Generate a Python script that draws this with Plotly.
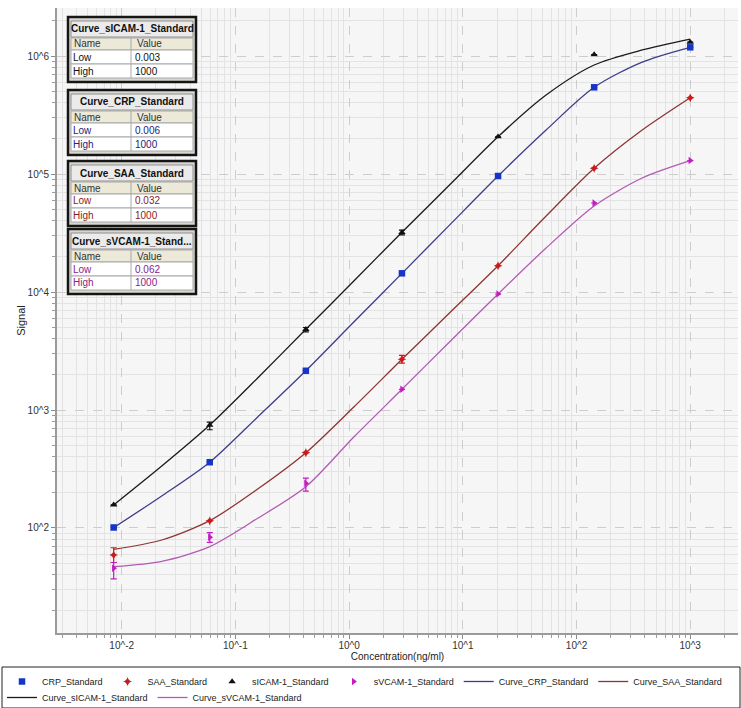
import plotly.graph_objects as go

# ---------------- data ----------------
conc = [0.0085, 0.0595, 0.4165, 2.915, 20.41, 142.9, 1000]

crp = [101, 361, 2150, 14400, 96200, 543000, 1185000]
saa = [59, 115, 435, 2690, 16700, 112000, 443000]
sicam = [157, 746, 4830, 32000, 207000, 1030000, 1310000]
svcam = [45.6, 83.4, 239, 1497, 9620, 56800, 130000]

crp_err_hi = [None, None, None, None, None, None, None]
crp_err_lo = [None, None, None, None, None, None, None]
saa_err_hi = [9, None, None, 210, None, None, None]
saa_err_lo = [8, None, None, 190, None, None, None]
sicam_err_hi = [None, 44, 170, 1500, None, None, None]
sicam_err_lo = [None, 66, 230, 1500, None, None, None]
svcam_err_hi = [5.4, 8, 26, None, None, None, None]
svcam_err_lo = [8.6, 8, 34, None, None, None, None]

curve_conc = [0.0085, 0.0225, 0.0595, 0.157, 0.4165, 1.10, 2.915, 7.71,
              20.41, 54.0, 142.9, 378, 1000]
curve_crp = [100.7, 186.7, 360.6, 873, 2153, 5570, 14390, 37240,
             96200, 236000, 543000, 889000, 1186000]
curve_saa = [65.9, 79.1, 115.3, 214, 434.5, 1060, 2690, 6700,
             16700, 44000, 111700, 236000, 443000]
curve_sicam = [156.7, 335, 746, 1866, 4830, 12390, 32060, 81500,
               207000, 467000, 839000, 1125000, 1393000]
curve_svcam = [47.0, 52.2, 69.5, 120.8, 223.9, 590, 1497, 3810,
               9620, 23600, 53600, 92500, 129700]

x_tickvals = [0.01, 0.1, 1, 10, 100, 1000]
x_ticktext = ["10^-2", "10^-1", "10^0", "10^1", "10^2", "10^3"]
y_tickvals = [1e2, 1e3, 1e4, 1e5, 1e6]
y_ticktext = ["10^2", "10^3", "10^4", "10^5", "10^6"]

table_titles = ["Curve_sICAM-1_Standard", "Curve_CRP_Standard",
                "Curve_SAA_Standard", "Curve_sVCAM-1_Stand..."]
table_low = ["0.003", "0.006", "0.032", "0.062"]
table_high = ["1000", "1000", "1000", "1000"]

# ---------------- styling ----------------
FONT = "Liberation Sans, Arial, sans-serif"
W, H = 741, 708
L, R, T, B = 57, 738, 8, 633

col_crp_m, col_crp_l = "#1634c8", "#3d3d8a"
col_saa_m, col_saa_l = "#cc1a1a", "#8e3434"
col_sicam_m, col_sicam_l = "#111111", "#1a1a1a"
col_svcam_m, col_svcam_l = "#c21cc2", "#b35ab3"
table_text_cols = ["#111111", "#23237a", "#8a1c1c", "#8a228a"]


def px(x):
    return (x - L) / (R - L)


def py(y):
    return (B - y) / (B - T)


fig = go.Figure()

curves = [
    ("Curve_CRP_Standard", curve_crp, col_crp_l, 5, "legend"),
    ("Curve_SAA_Standard", curve_saa, col_saa_l, 6, "legend"),
    ("Curve_sICAM-1_Standard", curve_sicam, col_sicam_l, 7, "legend2"),
    ("Curve_sVCAM-1_Standard", curve_svcam, col_svcam_l, 8, "legend2"),
]
for name, vals, col, rank, lg in curves:
    fig.add_trace(go.Scatter(
        x=curve_conc, y=vals, mode="lines", name=name, legendrank=rank,
        legend=lg,
        line=dict(color=col, width=1.3, shape="spline", smoothing=0.8),
    ))

points = [
    ("CRP_Standard", crp, crp_err_hi, crp_err_lo, col_crp_m, "square", 6.5, 1),
    ("SAA_Standard", saa, saa_err_hi, saa_err_lo, col_saa_m, "star-diamond", 6.5, 2),
    ("sICAM-1_Standard", sicam, sicam_err_hi, sicam_err_lo, col_sicam_m, "triangle-up", 6.5, 3),
    ("sVCAM-1_Standard", svcam, svcam_err_hi, svcam_err_lo, col_svcam_m, "triangle-right", 6.5, 4),
]
for name, vals, ehi, elo, col, sym, size, rank in points:
    fig.add_trace(go.Scatter(
        x=conc, y=vals, mode="markers", name=name, legendrank=rank,
        legend="legend",
        marker=dict(color=col, symbol=sym, size=size, line=dict(width=0)),
        error_y=dict(type="data", symmetric=False, array=ehi, arrayminus=elo,
                     color=col, thickness=1.2, width=3),
    ))

# minor tick positions (2..9 x each decade)
minor_x = [k * 10.0 ** d for d in range(-3, 4) for k in range(2, 10)]
minor_y = [k * 10.0 ** d for d in range(1, 7) for k in range(2, 10)]

axis_common = dict(
    type="log", showline=True, linecolor="#9a9a9a", linewidth=2,
    ticks="outside", ticklen=4, tickcolor="#8a8a8a", tickwidth=1,
    showgrid=True, gridcolor="#cdcdcd", griddash="dash", gridwidth=1,
    zeroline=False, tickfont=dict(family=FONT, size=10, color="#333333"),
)

fig.update_xaxes(
    **axis_common, range=[-2.569, 3.420],
    tickmode="array", tickvals=x_tickvals, ticktext=x_ticktext,
    ticklabelstandoff=-2,
    minor=dict(tickmode="array", tickvals=minor_x, ticks="outside", ticklen=3,
               tickcolor="#9a9a9a", showgrid=True, gridcolor="#e3e3e3",
               griddash="solid"),
    title=dict(text="Concentration(ng/ml)", standoff=2,
               font=dict(family=FONT, size=10, color="#222222")),
)
fig.update_yaxes(
    **axis_common, range=[1.110, 6.407],
    tickmode="array", tickvals=y_tickvals, ticktext=y_ticktext,
    minor=dict(tickmode="array", tickvals=minor_y, ticks="outside", ticklen=3,
               tickcolor="#9a9a9a", showgrid=True, gridcolor="#e3e3e3",
               griddash="solid"),
    title=dict(text="Signal", standoff=0,
               font=dict(family=FONT, size=11, color="#222222")),
)

shapes = []
annotations = []


def rect(x0, y0, x1, y1, fill, line, lw):
    shapes.append(dict(type="rect", xref="paper", yref="paper",
                       x0=px(x0), x1=px(x1), y0=py(y1), y1=py(y0),
                       fillcolor=fill, line=dict(color=line, width=lw),
                       layer="above"))


def text(x, y, s, col, size=10, anchor="left"):
    annotations.append(dict(xref="paper", yref="paper", x=px(x), y=py(y),
                            text=s, showarrow=False, xanchor=anchor,
                            yanchor="middle",
                            font=dict(family=FONT, size=size, color=col)))


tab_tops = [17, 90, 161, 229]
for i in range(4):
    t = tab_tops[i]
    x0, x1, xm = 68, 196, 131
    c = table_text_cols[i]
    rect(x0, t, x1, t + 65, "#d9d6ce", "#151515", 2.5)
    rect(x0 + 3, t + 4, x1 - 3, t + 20, "#ebebeb", "#8f8f8f", 1)
    rect(x0 + 3, t + 21, x1 - 3, t + 33, "#ece9d8", "#a8a8a8", 1)
    rect(x0 + 3, t + 33, x1 - 3, t + 47, "#ffffff", "#a8a8a8", 1)
    rect(x0 + 3, t + 47, x1 - 3, t + 61, "#ffffff", "#a8a8a8", 1)
    shapes.append(dict(type="line", xref="paper", yref="paper",
                       x0=px(xm), x1=px(xm), y0=py(t + 61), y1=py(t + 21),
                       line=dict(color="#a8a8a8", width=1), layer="above"))
    text((x0 + x1) / 2, t + 12, "<b>" + table_titles[i] + "</b>", "#111111",
         size=10, anchor="center")
    text(x0 + 4, t + 27, "Name", "#333333")
    text(xm + 4, t + 27, "Value", "#333333")
    text(x0 + 3, t + 40, "Low", c)
    text(xm + 2, t + 40, table_low[i], c)
    text(x0 + 3, t + 54, "High", c)
    text(xm + 2, t + 54, table_high[i], c)

# legend frame
rect(2, 667, 740, 708, "rgba(0,0,0,0)", "#222222", 1)

legend_common = dict(orientation="h", xanchor="left", yanchor="top",
                     font=dict(family=FONT, size=9, color="#222222"),
                     itemwidth=30, tracegroupgap=0, bgcolor="rgba(0,0,0,0)",
                     traceorder="normal", borderwidth=0)

fig.update_layout(
    width=W, height=H, autosize=False,
    margin=dict(l=L, r=W - R, t=T, b=H - B, autoexpand=False),
    paper_bgcolor="#ffffff", plot_bgcolor="#f6f6f6",
    font=dict(family=FONT, size=10, color="#222222"),
    showlegend=True,
    legend=dict(**legend_common, x=px(2), y=py(667)),
    legend2=dict(**legend_common, x=px(2), y=py(683)),
    shapes=shapes, annotations=annotations,
)

# the page body has a default 8px margin; remove it so the figure fills the window
fig.write_html("out.html",
               config={"displayModeBar": False},
               post_script="document.body.style.margin='0';")
